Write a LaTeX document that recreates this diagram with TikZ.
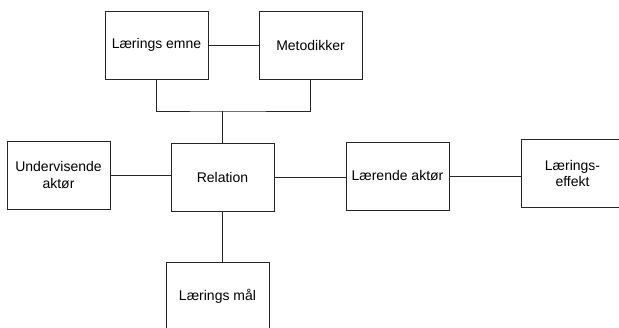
\documentclass[tikz,border=0pt]{standalone}
\usepackage{fontspec}
\setmainfont{Liberation Sans}
\usetikzlibrary{positioning}

\tikzset{
    blok/.style={draw=black!85, line width=0.7pt, minimum width=103pt, minimum height=68pt,
                 inner sep=0pt, align=center, font=\fontsize{14}{16.5}\selectfont},
    streg/.style={draw=black!85, line width=0.7pt}
}

\begin{document}
\begin{tikzpicture}[x=1pt,y=-1pt]

\useasboundingbox (0,0) rectangle (619,327);
\clip (0,0) rectangle (619,327);

\node [blok] (emne) at (156.5,45) {Lærings emne};
\node [blok] (metode) at (310.5,45) {Metodikker};
\node [blok] (relation) at (222.5,177) {Relation};
\node [blok] (underv) at (58.5,175) {Undervisende\\aktør};
\node [blok] (laerende) at (397.5,176) {Lærende aktør};
\node [blok] (effekt) at (572.5,173.5) {Lærings-\\effekt};
\node [blok] (maal) at (217.5,296) {Lærings mål};

\coordinate (samling) at (222.5,111);

\draw [streg] (emne) -- (metode);
\draw [streg] (emne.south) |- (samling) -| (metode.south);
\draw [streg] (samling) -- (relation.north);
\draw [streg] (underv.east) -- (underv.east -| relation.west);
\draw [streg] (relation.east) -- (relation.east -| laerende.west);
\draw [streg] (laerende.east) -- (laerende.east -| effekt.west);
\draw [streg] (relation.south) -- (relation.south |- maal.north);

\end{tikzpicture}
\end{document}
